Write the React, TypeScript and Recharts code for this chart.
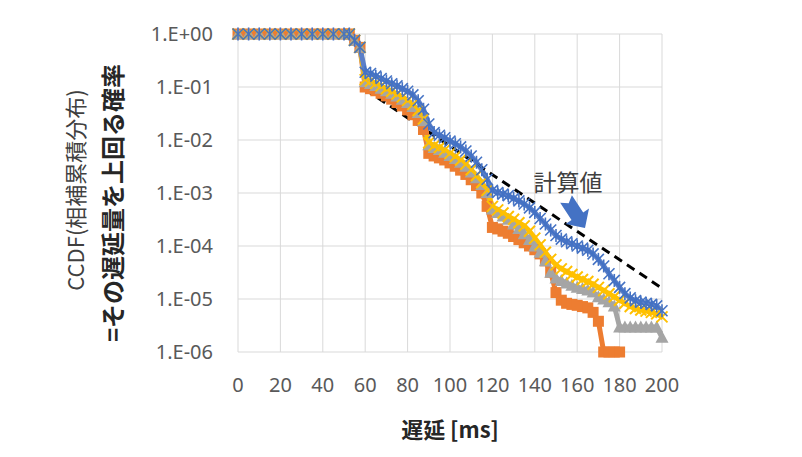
import React from "react";
import { CartesianGrid, Line, LineChart, XAxis, YAxis } from "recharts";

// 遅延 [ms]
const delayMs = [
  0, 5, 10, 15, 20, 25, 30, 35, 40, 45, 50, 52.5, 55, 57.5,
  60, 62.5, 65, 67.5, 70, 72.5, 75, 77.5,
  80, 82.5, 85, 87.5, 90, 92.5, 95, 97.5,
  100, 102.5, 105, 107.5, 110, 112.5, 115, 117.5,
  120, 122.5, 125, 127.5, 130, 132.5, 135, 137.5,
  140, 142.5, 145, 147.5, 150, 152.5, 155, 157.5,
  160, 162.5, 165, 167.5, 170, 172.5, 175, 177.5,
  180, 182.5, 185, 187.5, 190, 192.5, 195, 197.5,
  200,
];

const blueVals = [
  1, 1, 1, 1, 1, 1, 1, 1, 1, 1, 1, 1, 0.76, 0.56,
  0.19, 0.18, 0.16, 0.145, 0.13, 0.115, 0.105, 9.3e-2,
  8.3e-2, 7.1e-2, 5.5e-2, 3.8e-2, 2.0e-2, 1.38e-2, 1.23e-2, 1.1e-2,
  9.5e-3, 8.5e-3, 7.4e-3, 6.2e-3, 5.0e-3, 3.8e-3, 2.75e-3, 1.82e-3,
  1.12e-3, 1.02e-3, 9.5e-4, 8.9e-4, 7.9e-4, 7.1e-4, 6.2e-4, 5.25e-4,
  4.3e-4, 3.3e-4, 2.6e-4, 2.0e-4, 1.58e-4, 1.35e-4, 1.2e-4, 1.1e-4,
  1.0e-4, 9.1e-5, 8.3e-5, 7.1e-5, 5.6e-5, 4.2e-5, 3.0e-5, 2.24e-5,
  1.66e-5, 1.26e-5, 1.05e-5, 9.3e-6, 8.7e-6, 8.3e-6, 7.9e-6, 7.4e-6,
  6.0e-6,
];

const yellowVals = [
  1, 1, 1, 1, 1, 1, 1, 1, 1, 1, 1, 1, 0.76, 0.56,
  0.138, 0.129, 0.117, 0.105, 9.3e-2, 8.3e-2, 7.4e-2, 6.5e-2,
  5.6e-2, 4.7e-2, 3.6e-2, 2.5e-2, 8.9e-3, 7.9e-3, 7.2e-3, 6.5e-3,
  5.6e-3, 4.9e-3, 4.2e-3, 3.5e-3, 2.75e-3, 2.14e-3, 1.58e-3, 1.12e-3,
  5.6e-4, 4.8e-4, 4.2e-4, 3.6e-4, 3.2e-4, 2.75e-4, 2.4e-4, 1.9e-4,
  1.41e-4, 1.05e-4, 7.6e-5, 5.6e-5, 4.4e-5, 3.7e-5, 3.3e-5, 2.9e-5,
  2.6e-5, 2.34e-5, 2.14e-5, 1.9e-5, 1.66e-5, 1.45e-5, 1.26e-5, 1.1e-5,
  9.5e-6, 8.3e-6, 7.2e-6, 6.6e-6, 6.2e-6, 5.9e-6, 5.6e-6, 5.25e-6,
  4.6e-6,
];

const grayVals = [
  1, 1, 1, 1, 1, 1, 1, 1, 1, 1, 1, 1, 0.76, 0.56,
  0.126, 0.117, 0.107, 9.5e-2, 8.5e-2, 7.6e-2, 6.8e-2, 5.9e-2,
  5.1e-2, 4.3e-2, 3.3e-2, 2.3e-2, 8.1e-3, 7.2e-3, 6.6e-3, 5.9e-3,
  5.1e-3, 4.5e-3, 3.8e-3, 3.2e-3, 2.5e-3, 1.95e-3, 1.45e-3, 1.02e-3,
  5.0e-4, 4.3e-4, 3.7e-4, 3.2e-4, 2.6e-4, 2.14e-4, 1.7e-4, 1.32e-4,
  1.0e-4, 7.6e-5, 5.25e-5, 3.2e-5, 2.5e-5, 2.24e-5, 2.0e-5, 1.82e-5,
  1.66e-5, 1.58e-5, 1.48e-5, 1.35e-5, 1.1e-5, 1.0e-5, 8.9e-6, 7.4e-6,
  2.95e-6, 2.95e-6, 2.95e-6, 2.95e-6, 2.95e-6, 2.95e-6, 2.95e-6, 2.95e-6,
  1.9e-6,
];

const orangeVals = [
  1, 1, 1, 1, 1, 1, 1, 1, 1, 1, 1, 1, 0.76, 0.56,
  0.1, 9.3e-2, 8.5e-2, 7.6e-2, 6.8e-2, 5.9e-2, 5.1e-2, 4.4e-2,
  3.7e-2, 3.0e-2, 2.34e-2, 1.58e-2, 5.6e-3, 5.0e-3, 4.6e-3, 4.2e-3,
  3.7e-3, 3.2e-3, 2.7e-3, 2.24e-3, 1.78e-3, 1.38e-3, 1.0e-3, 5.6e-4,
  2.24e-4, 2.1e-4, 1.9e-4, 1.74e-4, 1.51e-4, 1.32e-4, 1.15e-4, 1.0e-4,
  8.5e-5, 7.1e-5, 5.25e-5, 3.2e-5, 1.32e-5, 9.5e-6, 8.3e-6, 7.9e-6,
  7.6e-6, 7.2e-6, 6.8e-6, 5.6e-6, 3.8e-6, 1e-6, 1e-6, 1e-6,
  1e-6, null, null, null, null, null, null, null,
  null,
];

// 計算値 (dashed)
const calcDelay = [60, 200];
const calcVals = [0.09, 1.6e-5];

const xTicks = [0, 20, 40, 60, 80, 100, 120, 140, 160, 180, 200];
const yTicks = [1, 1e-1, 1e-2, 1e-3, 1e-4, 1e-5, 1e-6];
const yTickLabels = ["1.E+00", "1.E-01", "1.E-02", "1.E-03", "1.E-04", "1.E-05", "1.E-06"];

const rows = delayMs.map((d, i) => ({
  delay: d,
  blue: blueVals[i],
  yellow: yellowVals[i],
  gray: grayVals[i],
  orange: orangeVals[i],
}));
const calcRows = calcDelay.map((d, i) => ({ delay: d, calc: calcVals[i] }));

const JP = '"Noto Sans CJK JP", "Noto Sans", sans-serif';
const LAT = '"Noto Sans", sans-serif';

const ok = (p: any) => p.cx != null && p.cy != null && !isNaN(p.cx) && !isNaN(p.cy) && p.value != null;

const starDot = (color: string) => (p: any) => {
  if (!ok(p)) return <g key={`b${p.index}`} />;
  const { cx, cy } = p;
  const r = 5.5;
  return (
    <g key={`b${p.index}`} stroke={color} strokeWidth={1.6}>
      <line x1={cx - r} y1={cy - r} x2={cx + r} y2={cy + r} />
      <line x1={cx - r} y1={cy + r} x2={cx + r} y2={cy - r} />
      <line x1={cx} y1={cy - r - 1} x2={cx} y2={cy + r + 1} />
    </g>
  );
};

const crossDot = (color: string) => (p: any) => {
  if (!ok(p)) return <g key={`y${p.index}`} />;
  const { cx, cy } = p;
  const r = 5.5;
  return (
    <g key={`y${p.index}`} stroke={color} strokeWidth={2}>
      <line x1={cx - r} y1={cy - r} x2={cx + r} y2={cy + r} />
      <line x1={cx - r} y1={cy + r} x2={cx + r} y2={cy - r} />
    </g>
  );
};

const squareDot = (color: string) => (p: any) => {
  if (!ok(p)) return <g key={`o${p.index}`} />;
  return <rect key={`o${p.index}`} x={p.cx - 5.5} y={p.cy - 5.5} width={11} height={11} fill={color} />;
};

const triDot = (color: string) => (p: any) => {
  if (!ok(p)) return <g key={`g${p.index}`} />;
  const { cx, cy } = p;
  return (
    <polygon
      key={`g${p.index}`}
      points={`${cx},${cy - 6.5} ${cx + 6.5},${cy + 5.5} ${cx - 6.5},${cy + 5.5}`}
      fill={color}
    />
  );
};

const App = () => {
  return (
    <div style={{ position: "absolute", left: 0, top: 0, width: 802, height: 457, background: "#fff" }}>
      <LineChart width={802} height={457} data={rows} margin={{ top: 34, right: 140, bottom: 75, left: 0 }}>
        <CartesianGrid stroke="#d9d9d9" />
        <XAxis
          dataKey="delay"
          type="number"
          domain={[0, 200]}
          ticks={xTicks}
          interval={0}
          height={30}
          axisLine={false}
          tickLine={false}
          tickMargin={20}
          tick={{ fontSize: 20, fill: "#595959", fontFamily: LAT }}
        />
        <YAxis
          type="number"
          scale="log"
          domain={[1e-6, 1]}
          ticks={yTicks}
          interval={0}
          width={238}
          axisLine={false}
          tickLine={false}
          tickMargin={19}
          tickFormatter={(v: number) => yTickLabels[yTicks.indexOf(v)] ?? ""}
          tick={{ fontSize: 20, fill: "#595959", fontFamily: LAT }}
        />
        <Line
          type="linear"
          dataKey="orange"
          stroke="#ED7D31"
          strokeWidth={5}
          dot={squareDot("#ED7D31")}
          activeDot={false}
          isAnimationActive={false}
        />
        <Line
          type="linear"
          dataKey="gray"
          stroke="#A5A5A5"
          strokeWidth={5}
          dot={triDot("#A5A5A5")}
          activeDot={false}
          isAnimationActive={false}
        />
        <Line
          type="linear"
          dataKey="yellow"
          stroke="#FFC000"
          strokeWidth={5}
          dot={crossDot("#FFC000")}
          activeDot={false}
          isAnimationActive={false}
        />
        <Line
          type="linear"
          dataKey="blue"
          stroke="#5b7fc9"
          strokeWidth={5}
          dot={starDot("#4472C4")}
          activeDot={false}
          isAnimationActive={false}
        />
        <Line
          data={calcRows}
          type="linear"
          dataKey="calc"
          stroke="#000"
          strokeWidth={3}
          strokeDasharray="9 6"
          dot={false}
          activeDot={false}
          isAnimationActive={false}
        />
      </LineChart>
      <svg width={802} height={457} style={{ position: "absolute", left: 0, top: 0, pointerEvents: "none" }}>
        <text
          transform="translate(74,190) rotate(-90)"
          textAnchor="middle"
          dominantBaseline="central"
          fontSize={22}
          fill="#404040"
          fontFamily={JP}
        >
          CCDF(相補累積分布)
        </text>
        <text
          transform="translate(111,203) rotate(-90)"
          textAnchor="middle"
          dominantBaseline="central"
          fontSize={24}
          fontWeight="bold"
          fill="#262626"
          fontFamily={JP}
        >
          =その遅延量を上回る確率
        </text>
        <text
          x={450}
          y={428}
          textAnchor="middle"
          dominantBaseline="central"
          fontSize={22}
          fontWeight="bold"
          fill="#262626"
          fontFamily={JP}
        >
          遅延 [ms]
        </text>
        <text
          x={568}
          y={181}
          textAnchor="middle"
          dominantBaseline="central"
          fontSize={23}
          fill="#404040"
          fontFamily={JP}
        >
          計算値
        </text>
        <polygon
          points="571.9,195.2 583.2,212.5 589,208.6 585,228 565.6,224 571.5,220.1 560.2,202.8 568.7,203.2"
          fill="#4472C4"
        />
      </svg>
    </div>
  );
};

export default App;
